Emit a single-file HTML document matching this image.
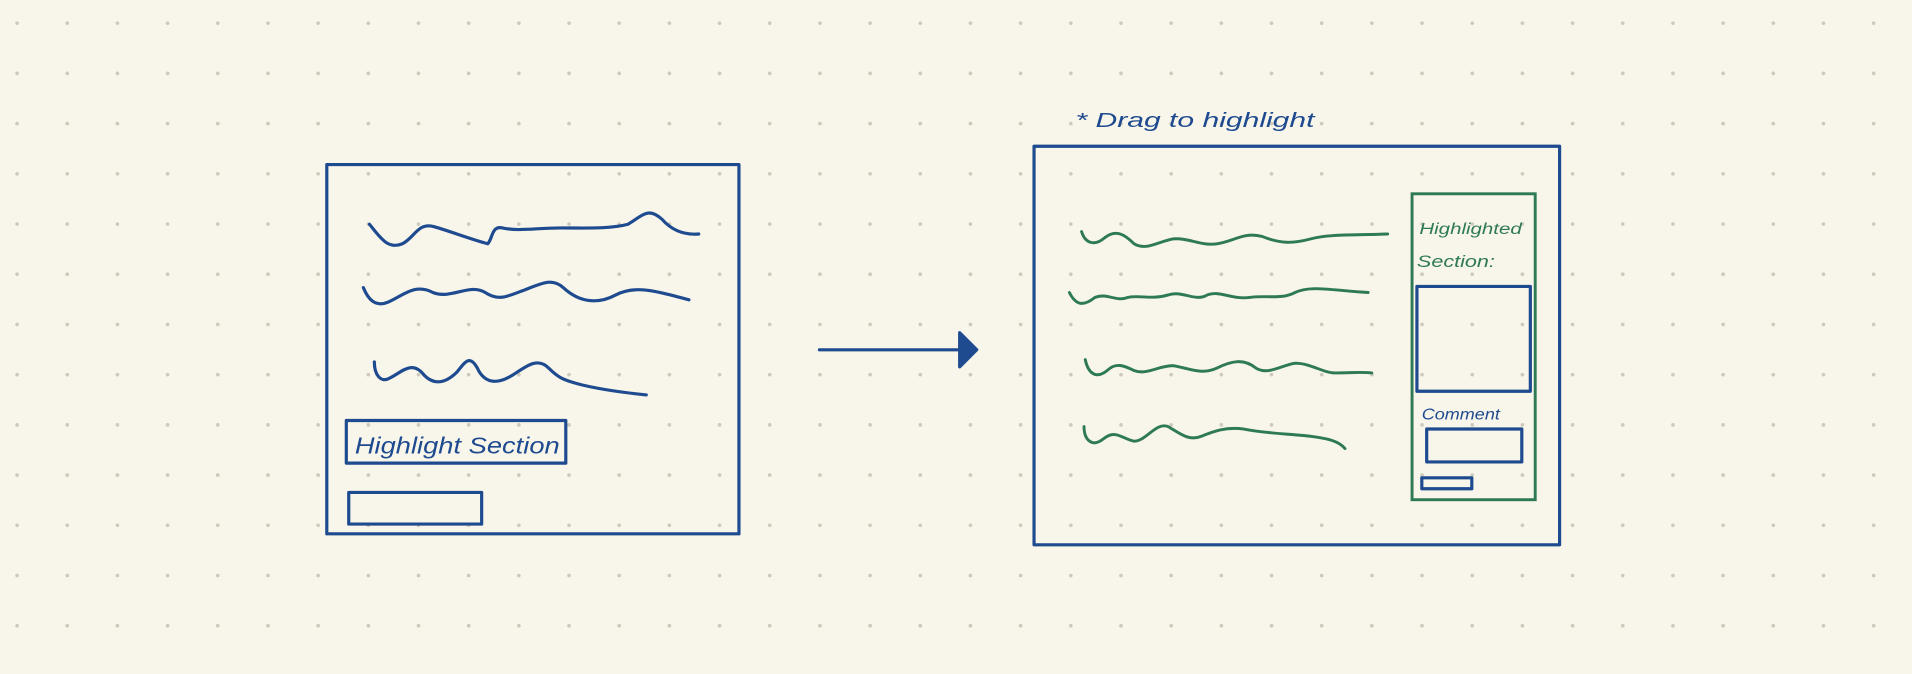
<!DOCTYPE html>
<html><head><meta charset="utf-8"><style>
html,body{margin:0;padding:0;background:#f8f5ea;}
svg{display:block}
</style></head><body>
<svg width="1912" height="674" viewBox="0 0 1568 553" preserveAspectRatio="none" xmlns="http://www.w3.org/2000/svg">
<rect width="1568" height="553" fill="#f8f5ea"/>
<g id="dots" fill="#cdcabd"></g>
<g fill="none" stroke="#1e4a8f" stroke-width="2.6" stroke-linecap="round" stroke-linejoin="round">
 <rect x="268" y="135" width="338" height="303"/>
 <path d="M303,184 C312,195 318,205 330,200 C340,195 343,182 356,186 C370,190 385,196 400,200 C404,196 403,185 412,187 C425,190 440,187 460,187 C480,187 500,188 515,184 C528,176 532,170 543,180 C550,188 560,193 573,192"/>
 <path d="M298,236 C302,246 308,252 318,248 C330,243 340,232 355,240 C370,246 385,232 398,240 C410,248 418,242 430,238 C445,232 453,228 462,236 C475,248 490,250 505,242 C520,234 535,238 565,246"/>
 <path d="M307,297 C307,307 312,315 320,310 C330,305 338,295 348,308 C358,318 368,312 375,305 C382,296 386,290 393,305 C400,316 410,314 420,308 C430,302 440,292 450,302 C458,310 462,312 478,316 C495,320 510,322 530,324"/>
 <rect x="284" y="345" width="180" height="35"/>
 <rect x="286" y="404" width="109" height="26"/>
 <rect x="848" y="120" width="431" height="327"/>
 <line x1="672" y1="287" x2="795" y2="287"/>
 <path d="M787,273 L801,287 L787,301 Z" fill="#1e4a8f"/>
 <rect x="1162" y="235" width="93" height="86"/>
 <rect x="1170" y="352" width="78" height="27"/>
 <rect x="1166" y="392" width="41" height="9"/>
</g>
<g fill="none" stroke="#2e7a55" stroke-width="2.4" stroke-linecap="round">
 <rect x="1158" y="159" width="101" height="251"/>
 <path d="M887,190 C890,200 898,202 906,195 C915,188 922,192 930,200 C940,206 950,198 962,196 C975,195 985,202 998,200 C1012,198 1020,190 1035,194 C1050,200 1060,200 1075,196 C1090,192 1110,193 1138,192"/>
 <path d="M877,240 C882,250 888,252 898,244 C908,240 915,248 925,244 C935,242 945,246 958,242 C970,238 980,248 990,242 C1000,238 1010,246 1025,244 C1040,242 1050,246 1062,240 C1075,234 1090,238 1122,240"/>
 <path d="M890,295 C892,305 898,312 908,304 C915,297 922,300 930,304 C940,308 950,300 962,300 C975,302 985,308 998,302 C1010,296 1020,294 1030,302 C1040,308 1050,300 1062,298 C1075,298 1085,306 1095,306 C1108,306 1115,305 1125,306"/>
 <path d="M889,350 C889,360 895,368 905,360 C915,352 920,360 930,362 C940,362 948,346 958,350 C968,356 975,362 985,358 C995,354 1005,350 1020,352 C1040,356 1060,356 1075,358 C1090,360 1098,362 1103,368"/>
</g>
<g font-family="'Liberation Sans', sans-serif" font-style="italic">
 <text x="291" y="372" font-size="19" fill="#1e4a8f" textLength="168" lengthAdjust="spacingAndGlyphs">Highlight Section</text>
 <text x="882" y="104" font-size="17" fill="#1e4a8f" textLength="196" lengthAdjust="spacingAndGlyphs">* Drag to highlight</text>
 <text x="1164" y="192" font-size="13" fill="#2e7a55" textLength="84" lengthAdjust="spacingAndGlyphs">Highlighted</text>
 <text x="1162" y="219" font-size="14" fill="#2e7a55" textLength="64" lengthAdjust="spacingAndGlyphs">Section:</text>
 <text x="1166" y="344" font-size="13" fill="#1e4a8f" textLength="64" lengthAdjust="spacingAndGlyphs">Comment</text>
</g>
</svg>
<script>
var g=document.getElementById('dots');
for(var r=0;r<14;r++){for(var c=0;c<38;c++){
 var e=document.createElementNS('http://www.w3.org/2000/svg','circle');
 
 
 e.setAttribute('cx',14+c*41.15);e.setAttribute('cy',19+r*41.2);e.setAttribute('r',1.5);
 g.appendChild(e);}}
</script>
</body></html>
